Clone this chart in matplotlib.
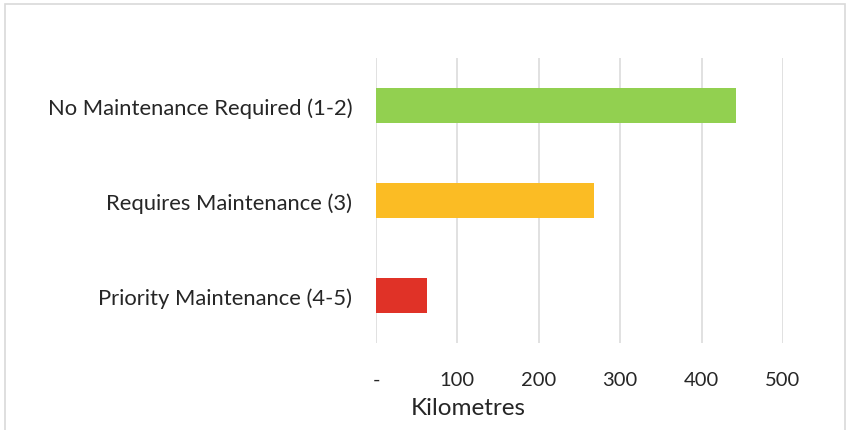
import matplotlib
matplotlib.use("Agg")
import matplotlib.pyplot as plt
from matplotlib.patches import Rectangle

categories = ["No Maintenance Required (1-2)", "Requires Maintenance (3)", "Priority Maintenance (4-5)"]
values = [442, 268, 63]
colors = ["#92D050", "#FBBC24", "#E03227"]
xticks = [0, 100, 200, 300, 400, 500]
xticklabels = ["-", "100", "200", "300", "400", "500"]

plt.rcParams['font.family'] = ['Lato', 'DejaVu Sans']

W, H = 849, 431
fig = plt.figure(figsize=(W/100, H/100), dpi=100)
fig.patches.append(Rectangle((4.5/W, -0.1), (845-4.5)/W, (H-4.5)/H + 0.1,
                             transform=fig.transFigure, fill=False,
                             edgecolor="#D9D9D9", linewidth=1.2, zorder=0))

ax = fig.add_axes([376/W, (H-344)/H, (783-376)/W, (344-59)/H])
ypos = list(range(len(categories)))
ax.barh(ypos, values, height=0.36, color=colors, zorder=3)
ax.set_ylim(2.5, -0.5)
ax.set_xlim(0, 500)
ax.set_yticks(ypos)
ax.set_yticklabels(categories, fontsize=15.8, color="#262626")
ax.set_xticks(xticks)
ax.set_xticklabels(xticklabels, fontsize=14.5, color="#262626")
ax.tick_params(axis='both', length=0)
ax.tick_params(axis='y', pad=17)
ax.tick_params(axis='x', pad=20)
ax.grid(axis='x', color="#D9D9D9", linewidth=1.1, zorder=0)
for s in ax.spines.values():
    s.set_visible(False)
fig.text(468/W, 1 - 409/H, "Kilometres", ha='center', va='center', fontsize=17.5, color="#262626")

fig.savefig("out.png", dpi=100)
